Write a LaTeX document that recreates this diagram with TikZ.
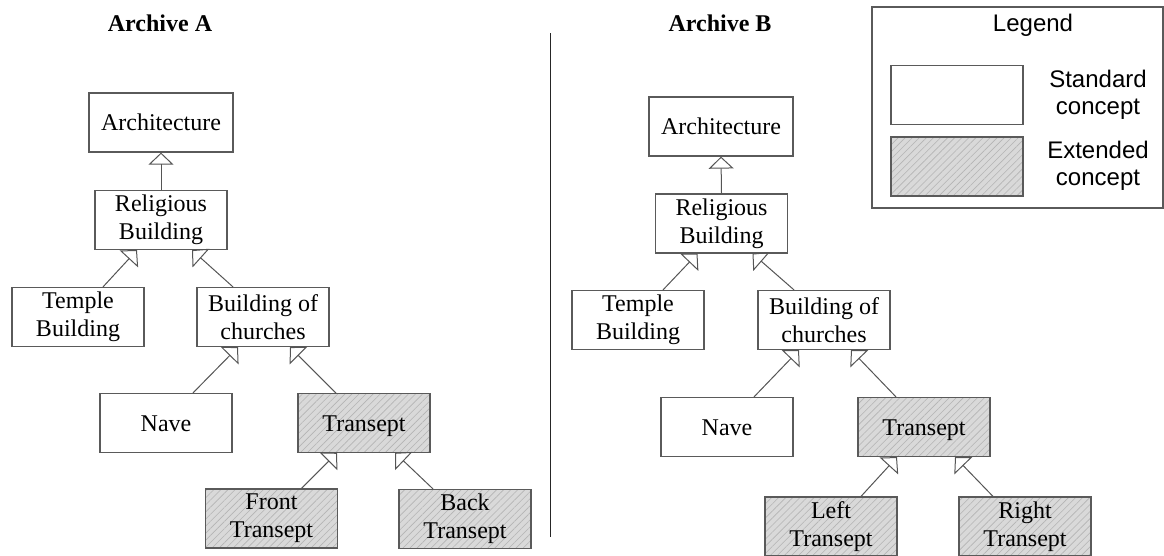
\documentclass[tikz,border=0pt]{standalone}
\usepackage{fontspec}
\setmainfont{Liberation Serif}
\setsansfont{Liberation Sans}
\usepackage{tikz}
\usetikzlibrary{arrows.meta}
\usetikzlibrary{patterns.meta}

\definecolor{boxgray}{HTML}{5A5A5A}
\definecolor{linegray}{HTML}{555555}
\definecolor{hatchbg}{HTML}{D9D9D9}
\definecolor{hatchline}{HTML}{B4B4B4}

\tikzset{
  concept/.style={draw=boxgray, line width=1.2pt, minimum width=132pt,
    minimum height=59pt, inner sep=0pt, align=center,
    font=\fontsize{24}{28}\selectfont},
  oneline/.style={text height=16pt, text depth=0pt},
  extended/.style={concept, preaction={fill=hatchbg},
    pattern={Lines[angle=45,distance=5pt,line width=0.6pt]},
    pattern color=hatchline},
  isa/.style={draw=linegray, line width=1pt,
    -{Triangle[open,width=25pt,length=12pt]}},
  title/.style={font=\bfseries\fontsize{24}{28}\selectfont},
  legendtext/.style={align=center, font=\sffamily\fontsize{24}{27}\selectfont}
}

\begin{document}
\begin{tikzpicture}[x=1pt,y=-1pt]
  \useasboundingbox (0,0) rectangle (1164,555);

  % archive A
  \node[title] (titleA) at (160,23) {Archive A};
  \node[concept, oneline, minimum width=144pt] (archA) at (161,122.5) {Architecture};
  \node[concept] (relA) at (161,220) {Religious\\Building};
  \node[concept] (templeA) at (78,317) {Temple\\Building};
  \node[concept] (bldgA) at (263,317) {Building of\\churches};
  \node[concept, oneline] (naveA) at (166,423) {Nave};
  \node[extended, oneline] (transA) at (364,423) {Transept};
  \node[extended] (tr1A) at (271.5,518.5) {Front\\Transept};
  \node[extended] (tr2A) at (465,519) {Back\\Transept};

  % archive B
  \node[title] (titleB) at (720,23) {Archive B};
  \node[concept, oneline, minimum width=144pt] (archB) at (721,126.5) {Architecture};
  \node[concept] (relB) at (721.5,223.5) {Religious\\Building};
  \node[concept] (templeB) at (638,320) {Temple\\Building};
  \node[concept] (bldgB) at (824,320) {Building of\\churches};
  \node[concept, oneline] (naveB) at (727,427) {Nave};
  \node[extended, oneline] (transB) at (924,427) {Transept};
  \node[extended] (tr1B) at (831,526.5) {Left\\Transept};
  \node[extended] (tr2B) at (1025,526.5) {Right\\Transept};

  % generalisation links
  \foreach \s in {A,B} {
    \draw[isa] (rel\s.north) -- (arch\s.south);
    \draw[isa] ([xshift=25pt]temple\s.north) -- ([xshift=-24pt]rel\s.south);
    \draw[isa] ([xshift=-30pt]bldg\s.north) -- ([xshift=31pt]rel\s.south);
    \draw[isa] ([xshift=27pt]nave\s.north) -- ([xshift=-25pt]bldg\s.south);
    \draw[isa] ([xshift=-28pt]trans\s.north) -- ([xshift=27pt]bldg\s.south);
    \draw[isa] ([xshift=30pt]tr1\s.north) -- ([xshift=-27pt]trans\s.south);
    \draw[isa] ([xshift=-32pt]tr2\s.north) -- ([xshift=31pt]trans\s.south);
  }

  % separator
  \coordinate (sepTop) at (550.5,33);
  \coordinate (sepBot) at (550.5,537);
  \draw[line width=1.2pt, black!85] (sepTop) -- (sepBot);

  % legend
  \node[draw=boxgray, line width=1.2pt, minimum width=291pt, minimum height=201pt,
    inner sep=0pt] (legend) at (1017.5,107.5) {};
  \node[legendtext] (legendTitle) at (1033,25) {Legend};
  \node[concept] (stdBox) at (957,95) {};
  \node[extended] (extBox) at (957,166.5) {};
  \node[legendtext] (stdText) at (1098,95) {Standard\\concept};
  \node[legendtext] (extText) at (1098,166) {Extended\\concept};
\end{tikzpicture}
\end{document}
